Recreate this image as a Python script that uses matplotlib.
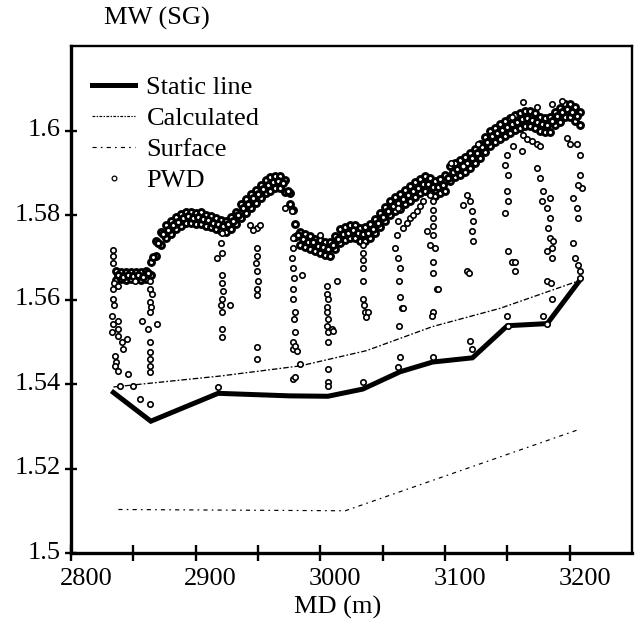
import matplotlib.pyplot as plt
import matplotlib.transforms as mtransforms
from matplotlib.lines import Line2D

plt.rcParams['font.family'] = ['Liberation Serif', 'DejaVu Serif']
plt.rcParams['lines.scale_dashes'] = False

# Static line / Calculated / Surface (MD in m, MW in SG)
static_md = [2834, 2864, 2918, 2975, 3006, 3034, 3064, 3090, 3122, 3150, 3182, 3208]
static_mw = [1.5380, 1.5312, 1.5378, 1.5372, 1.5371, 1.5388, 1.5429, 1.5452,
             1.5462, 1.5538, 1.5543, 1.5645]

calc_md = [2834, 2920, 2984, 3037, 3090, 3144, 3208]
calc_mw = [1.5393, 1.5419, 1.5443, 1.5479, 1.5536, 1.5579, 1.5645]

surf_md = [2838, 3020, 3208]
surf_mw = [1.5103, 1.5100, 1.5293]

# PWD: main band, read as upper / lower edge and a middle row
band_md = [2836, 2840, 2844, 2848, 2852, 2856, 2860, 2864, 2868, 2872, 2876, 2880,
           2884, 2888, 2892, 2896, 2900, 2904, 2908, 2912, 2916, 2920, 2924, 2928,
           2932, 2936, 2940, 2944, 2948, 2952, 2956, 2960, 2964, 2968, 2972, 2976,
           2980, 2984, 2988, 2992, 2996, 3000, 3004, 3008, 3012, 3016, 3020, 3024,
           3028, 3032, 3036, 3040, 3044, 3048, 3052, 3056, 3060, 3064, 3068, 3072,
           3076, 3080, 3084, 3088, 3092, 3096, 3100, 3104, 3108, 3112, 3116, 3120,
           3124, 3128, 3132, 3136, 3140, 3144, 3148, 3152, 3156, 3160, 3164, 3168,
           3172, 3176, 3180, 3184, 3188, 3192, 3196, 3200, 3204, 3208]
band_hi = [1.5668, 1.5665, 1.5664, 1.5666, 1.5665, 1.5664, 1.5667, 1.5690, 1.5738, 1.5760,
           1.5776, 1.5786, 1.5795, 1.5802, 1.5808, 1.5806, 1.5805, 1.5806, 1.5800, 1.5798,
           1.5794, 1.5788, 1.5787, 1.5795, 1.5808, 1.5826, 1.5838, 1.5849, 1.5860, 1.5872,
           1.5882, 1.5889, 1.5893, 1.5892, 1.5882, 1.5852, 1.5778, 1.5760, 1.5755, 1.5750,
           1.5744, 1.5740, 1.5736, 1.5737, 1.5751, 1.5766, 1.5772, 1.5777, 1.5776, 1.5770,
           1.5771, 1.5778, 1.5790, 1.5804, 1.5818, 1.5834, 1.5843, 1.5850, 1.5860, 1.5869,
           1.5879, 1.5886, 1.5893, 1.5888, 1.5880, 1.5886, 1.5894, 1.5915, 1.5924, 1.5930,
           1.5937, 1.5946, 1.5957, 1.5969, 1.5984, 1.5998, 1.6007, 1.6015, 1.6022, 1.6029,
           1.6036, 1.6041, 1.6046, 1.6046, 1.6041, 1.6033, 1.6030, 1.6031, 1.6045, 1.6054,
           1.6063, 1.6062, 1.6055, 1.6043]
band_lo = [1.5647, 1.5649, 1.5646, 1.5648, 1.5649, 1.5646, 1.5648, 1.5658, 1.5704, 1.5729,
           1.5746, 1.5756, 1.5766, 1.5773, 1.5780, 1.5782, 1.5779, 1.5778, 1.5774, 1.5771,
           1.5766, 1.5762, 1.5760, 1.5766, 1.5778, 1.5793, 1.5804, 1.5816, 1.5829, 1.5841,
           1.5851, 1.5858, 1.5864, 1.5864, 1.5854, 1.5826, 1.5749, 1.5729, 1.5724, 1.5720,
           1.5716, 1.5710, 1.5705, 1.5704, 1.5720, 1.5734, 1.5741, 1.5746, 1.5745, 1.5739,
           1.5738, 1.5746, 1.5757, 1.5771, 1.5785, 1.5800, 1.5809, 1.5815, 1.5825, 1.5834,
           1.5843, 1.5851, 1.5858, 1.5853, 1.5846, 1.5851, 1.5858, 1.5880, 1.5889, 1.5894,
           1.5901, 1.5911, 1.5922, 1.5934, 1.5949, 1.5963, 1.5972, 1.5980, 1.5987, 1.5994,
           1.6001, 1.6006, 1.6011, 1.6011, 1.6006, 1.5999, 1.5996, 1.5996, 1.6012, 1.6021,
           1.6031, 1.6031, 1.6023, 1.6013]

mid_md = [2838, 2842, 2846, 2850, 2854, 2858, 2862, 2866, 2870, 2874, 2878, 2882,
          2886, 2890, 2894, 2898, 2902, 2906, 2910, 2914, 2918, 2922, 2926, 2930,
          2934, 2938, 2942, 2946, 2950, 2954, 2958, 2962, 2966, 2970, 2974, 2978,
          2982, 2986, 2990, 2994, 2998, 3002, 3006, 3010, 3014, 3018, 3022, 3026,
          3030, 3034, 3038, 3042, 3046, 3050, 3054, 3058, 3062, 3066, 3070, 3074,
          3078, 3082, 3086, 3090, 3094, 3098, 3102, 3106, 3110, 3114, 3118, 3122,
          3126, 3130, 3134, 3138, 3142, 3146, 3150, 3154, 3158, 3162, 3166, 3170,
          3174, 3178, 3182, 3186, 3190, 3194, 3198, 3202, 3206]
mid_mw = [1.5659, 1.5653, 1.5658, 1.5655, 1.5659, 1.5654, 1.5663, 1.5700, 1.5733, 1.5755,
          1.5765, 1.5777, 1.5783, 1.5793, 1.5797, 1.5792, 1.5795, 1.5790, 1.5788, 1.5782,
          1.5779, 1.5773, 1.5778, 1.5786, 1.5801, 1.5817, 1.5826, 1.5840, 1.5850, 1.5862,
          1.5870, 1.5878, 1.5880, 1.5876, 1.5858, 1.5812, 1.5752, 1.5744, 1.5737, 1.5735,
          1.5727, 1.5724, 1.5719, 1.5729, 1.5743, 1.5755, 1.5758, 1.5764, 1.5757, 1.5756,
          1.5758, 1.5768, 1.5781, 1.5795, 1.5810, 1.5821, 1.5829, 1.5838, 1.5847, 1.5858,
          1.5865, 1.5873, 1.5874, 1.5867, 1.5866, 1.5872, 1.5887, 1.5903, 1.5909, 1.5916,
          1.5924, 1.5935, 1.5946, 1.5960, 1.5974, 1.5986, 1.5994, 1.6002, 1.6008, 1.6016,
          1.6021, 1.6027, 1.6030, 1.6026, 1.6020, 1.6015, 1.6013, 1.6022, 1.6034, 1.6043,
          1.6050, 1.6044, 1.6035]

# PWD: drops and scattered readings below the band
drop_md = [2833.7, 2833.7, 2833.7, 2834.5, 2833.7, 2833.7, 2834.5, 2832.9, 2833.7, 2832.9,
           2837.7, 2837.7, 2837.7, 2840.9, 2841.7, 2844.9, 2835.3, 2836.1, 2835.3, 2837.7,
           2845.7, 2839.3, 2849.7, 2837.7, 2851.3,
           2863.4, 2863.4, 2863.4, 2864.2, 2863.4, 2861.8, 2863.4, 2863.4, 2863.4, 2863.4,
           2863.4, 2857.0, 2869.0, 2855.3, 2863.4, 2865.0,
           2921.1, 2920.3, 2921.1, 2917.1, 2921.1, 2921.1, 2921.9, 2921.1, 2920.3, 2921.1,
           2927.5, 2921.1, 2921.1, 2917.9,
           2943.6, 2949.2, 2951.6, 2946.0,
           2949.2, 2949.2, 2948.4, 2949.2, 2950.0, 2949.2, 2949.2, 2949.2, 2949.2,
           2971.6, 2977.3,
           2978.1, 2978.1, 2977.3, 2978.1, 2978.9, 2978.1, 2978.1, 2979.7, 2978.9, 2979.7,
           2978.1, 2978.1, 2979.7, 2981.3, 2978.1, 2979.7, 2983.7, 2985.3,
           2999.7, 3013.4,
           3005.3, 3005.3, 3006.1, 3005.3, 3005.3, 3006.1, 3005.3, 3006.1, 3006.1, 3006.1,
           3006.1, 3006.1, 3009.4, 3010.2,
           3034.2, 3034.2, 3034.2, 3034.2, 3034.2, 3034.2, 3035.0, 3035.8, 3038.2, 3036.6,
           3034.2,
           3062.3, 3062.3, 3061.5, 3059.9, 3062.3, 3063.9, 3063.1, 3063.9, 3065.5, 3066.3,
           3063.1, 3062.3, 3063.9,
           3066.3, 3071.9, 3077.5, 3082.3, 3088.0, 3069.5, 3074.3, 3079.9,
           3090.4, 3090.4, 3090.4, 3090.4, 3090.4, 3092.0, 3090.4, 3090.4, 3088.0, 3085.5,
           3093.6, 3094.4, 3090.4, 3089.6, 3090.4,
           3117.6, 3120.0, 3121.6, 3122.4, 3121.6, 3122.4, 3114.4, 3117.6, 3119.2, 3104.8,
           3126.5, 3114.4, 3120.0, 3121.6,
           3149.7, 3148.1, 3150.5, 3149.7, 3150.5, 3148.1, 3150.5, 3153.7, 3156.1, 3156.1,
           3149.7, 3150.5, 3153.7,
           3162.5, 3165.7, 3169.8, 3173.8, 3176.2, 3161.7, 3154.5, 3162.5, 3173.8,
           3173.8, 3176.2, 3178.6, 3177.8, 3181.8, 3184.2, 3184.2, 3182.6, 3184.2, 3186.6,
           3181.8, 3185.8, 3185.8, 3181.8, 3185.0, 3185.8, 3178.6, 3181.8, 3185.8, 3193.8,
           3197.8, 3200.2, 3205.9, 3208.3, 3208.3, 3209.9, 3206.7, 3202.6, 3205.9, 3206.7,
           3202.6, 3204.2, 3206.7, 3208.3, 3208.3]
drop_mw = [1.5717, 1.5702, 1.5686, 1.5640, 1.5626, 1.5602, 1.5588, 1.5560, 1.5543, 1.5524,
           1.5548, 1.5531, 1.5514, 1.5500, 1.5483, 1.5507, 1.5467, 1.5452, 1.5443, 1.5431,
           1.5424, 1.5395, 1.5395, 1.5633, 1.5643,
           1.5643, 1.5626, 1.5595, 1.5583, 1.5571, 1.5531, 1.5500, 1.5476, 1.5460, 1.5443,
           1.5429, 1.5548, 1.5543, 1.5364, 1.5352, 1.5614,
           1.5757, 1.5733, 1.5710, 1.5698, 1.5657, 1.5638, 1.5621, 1.5602, 1.5586, 1.5571,
           1.5586, 1.5531, 1.5512, 1.5393,
           1.5776, 1.5769, 1.5776, 1.5764,
           1.5721, 1.5702, 1.5686, 1.5667, 1.5645, 1.5626, 1.5610, 1.5488, 1.5460,
           1.5817, 1.5810,
           1.5745, 1.5721, 1.5698, 1.5674, 1.5650, 1.5626, 1.5602, 1.5571, 1.5555, 1.5524,
           1.5500, 1.5483, 1.5490, 1.5478, 1.5412, 1.5417, 1.5448, 1.5657,
           1.5752, 1.5645,
           1.5633, 1.5614, 1.5602, 1.5583, 1.5571, 1.5555, 1.5538, 1.5524, 1.5500, 1.5436,
           1.5405, 1.5395, 1.5531, 1.5526,
           1.5729, 1.5710, 1.5693, 1.5674, 1.5643, 1.5602, 1.5586, 1.5571, 1.5571, 1.5559,
           1.5405,
           1.5817, 1.5786, 1.5752, 1.5721, 1.5698, 1.5674, 1.5645, 1.5607, 1.5579, 1.5579,
           1.5538, 1.5440, 1.5464,
           1.5769, 1.5793, 1.5810, 1.5833, 1.5848, 1.5781, 1.5800, 1.5821,
           1.5833, 1.5812, 1.5793, 1.5774, 1.5752, 1.5721, 1.5690, 1.5662, 1.5729, 1.5762,
           1.5626, 1.5626, 1.5571, 1.5562, 1.5464,
           1.5848, 1.5833, 1.5810, 1.5786, 1.5762, 1.5738, 1.5824, 1.5667, 1.5662, 1.5924,
           1.5967, 1.5917, 1.5502, 1.5483,
           1.5943, 1.5919, 1.5895, 1.5857, 1.5833, 1.5805, 1.5714, 1.5690, 1.5690, 1.5667,
           1.5560, 1.5538, 1.6031,
           1.5990, 1.5979, 1.5976, 1.5967, 1.5964, 1.5952, 1.5964, 1.6067, 1.6055,
           1.5912, 1.5888, 1.5857, 1.5833, 1.5817, 1.5840, 1.5793, 1.5769, 1.5745, 1.5738,
           1.5714, 1.5698, 1.5721, 1.5645, 1.5638, 1.5602, 1.5560, 1.5543, 1.6062, 1.6071,
           1.5983, 1.5967, 1.5967, 1.5943, 1.5895, 1.5864, 1.5871, 1.5840, 1.5817, 1.5793,
           1.5733, 1.5698, 1.5681, 1.5667, 1.5650]

x_ticks = [2800, 2850, 2900, 2950, 3000, 3050, 3100, 3150, 3200]
x_labels = ['2800', '', '2900', '', '3000', '', '3100', '', '3200']
y_ticks = [1.5, 1.52, 1.54, 1.56, 1.58, 1.6]
y_labels = ['1.5', '1.52', '1.54', '1.56', '1.58', '1.6']

fig = plt.figure(figsize=(6.41, 6.28), dpi=100)
ax = fig.add_axes([0.1108, 0.1194, 0.8752, 0.8073])

ax.plot(static_md, static_mw, color='black', lw=3.6, solid_joinstyle='miter', zorder=2)
ax.plot(calc_md, calc_mw, color='black', lw=0.95, dashes=(4, 1.5, 1.2, 1.5), zorder=2)
ax.plot(surf_md, surf_mw, color='black', lw=0.85, dashes=(3, 3, 1.2, 3), zorder=2)

# dense readings overlap into a near-solid band
band_style = dict(ls='none', marker='o', ms=4.3, mfc='white', mec='black', mew=2.1, zorder=3)
pwd_style = dict(ls='none', marker='o', ms=3.9, mfc='white', mec='black', mew=1.2, zorder=3)
ax.plot(band_md, band_hi, **band_style)
ax.plot(band_md, band_lo, **band_style)
ax.plot(mid_md, mid_mw, **band_style)
ax.plot(drop_md, drop_mw, **pwd_style)

ax.set_xlim(2800, 3250)
ax.set_ylim(1.5, 1.62)

ax.set_xticks(x_ticks)
ax.set_xticklabels(x_labels)
ax.set_yticks(y_ticks)
ax.set_yticklabels(y_labels)
ax.tick_params(axis='x', direction='inout', length=12, width=1.7, labelsize=19, pad=5)
ax.tick_params(axis='y', direction='inout', length=9, width=1.7, labelsize=19, pad=3)

shift = mtransforms.ScaledTranslation(15 / 100, 0, fig.dpi_scale_trans)
for lab in ax.get_xticklabels():
    lab.set_transform(lab.get_transform() + shift)
up = mtransforms.ScaledTranslation(0, 3 / 100, fig.dpi_scale_trans)
for lab in ax.get_yticklabels():
    lab.set_transform(lab.get_transform() + up)

for side in ['left', 'bottom']:
    ax.spines[side].set_linewidth(2.4)
for side in ['top', 'right']:
    ax.spines[side].set_linewidth(1.7)

handles = [
    Line2D([], [], color='black', lw=3.6),
    Line2D([], [], color='black', lw=0.85, dashes=(2, 1, 1, 1)),
    Line2D([], [], color='black', lw=0.85, dashes=(3, 3, 1.2, 3)),
    Line2D([], [], ls='none', marker='o', ms=3.4, mfc='white', mec='black', mew=0.9),
]
ax.legend(handles, ['Static line', 'Calculated', 'Surface', 'PWD'],
          loc='upper left', bbox_to_anchor=(0.037, 0.942), frameon=False,
          fontsize=19, handlelength=1.65, handletextpad=0.42,
          labelspacing=0.29, borderpad=0, borderaxespad=0)

fig.text(157 / 641, 1 - 18 / 628, 'MW (SG)', ha='center', va='center', fontsize=19)
fig.text(338 / 641, 1 - 607 / 628, 'MD (m)', ha='center', va='center', fontsize=19)

fig.savefig('out.png', dpi=100)
